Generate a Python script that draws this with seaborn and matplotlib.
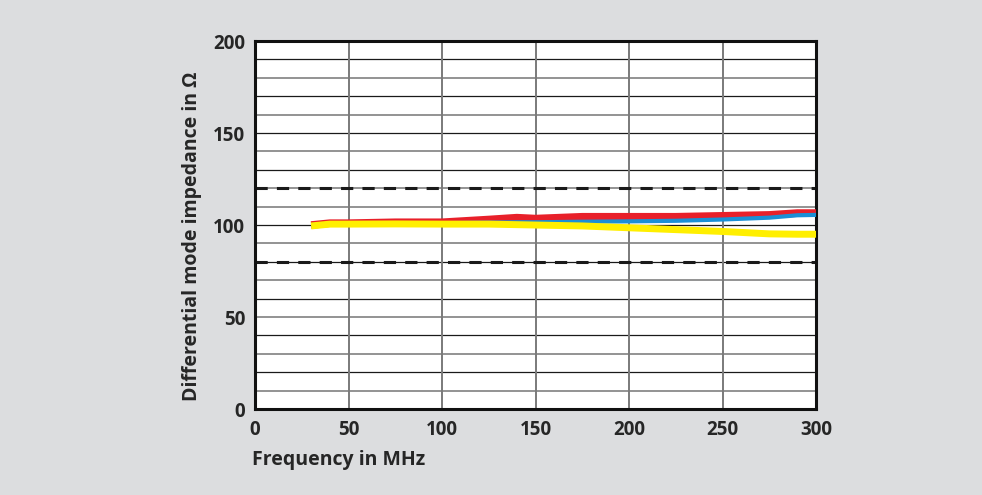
import numpy as np
import pandas as pd
import matplotlib
matplotlib.use("Agg")
import matplotlib.pyplot as plt
import seaborn as sns

# frequency points in MHz
freq = [30, 40, 50, 75, 100, 125, 140, 150, 175, 200, 225, 250, 275, 290, 300]
# impedance curves in Ohm
red = [100, 101, 101, 101.5, 101.5, 103, 104, 103.5, 104.5, 104.5, 104.5, 105, 105.5, 106.5, 106.5]
blue = [100, 100.5, 100.5, 100.8, 101, 101.3, 101.5, 101.5, 101.8, 102, 102.3, 103, 104, 105.3, 105.5]
yellow = [99.5, 100.5, 100.5, 100.6, 100.5, 100.5, 100.2, 100, 99.5, 98.5, 97.5, 96.5, 95.2, 95, 95]
limits = [80, 120]
dark_grid = [20, 40, 60, 80, 100, 130, 150, 170, 190]

df = pd.DataFrame({
    "f": freq * 3,
    "z": red + blue + yellow,
    "curve": ["red"] * len(freq) + ["blue"] * len(freq) + ["yellow"] * len(freq),
})

sns.set_style("white")
plt.rcParams["font.family"] = ["Open Sans", "DejaVu Sans"]
txt = "#262626"
bg = "#dcdddf"

fig = plt.figure(figsize=(9.82, 4.95), dpi=100, facecolor=bg)
ax = fig.add_axes([0.2597, 0.1737, 0.5713, 0.7434])
ax.set_facecolor("white")

# grid
for y in range(10, 200, 10):
    if y in dark_grid:
        ax.axhline(y, color="#1a1a1a", lw=0.9, zorder=1)
    else:
        ax.axhline(y, color="#8a8a8a", lw=1.3, zorder=1)
for x in range(50, 300, 50):
    ax.axvline(x, color="#7a7a7a", lw=1.4, zorder=1)
for y in limits:
    ax.axhline(y, color="#1a1a1a", lw=2.2, ls=(0, (4, 3)), zorder=2)

palette = {"red": "#e8202a", "blue": "#1a8fd6", "yellow": "#ffef00"}
widths = {"red": 5.5, "blue": 3.0, "yellow": 5.0}
for name in ["red", "blue", "yellow"]:
    sns.lineplot(data=df[df.curve == name], x="f", y="z", color=palette[name],
                 lw=widths[name], ax=ax, zorder=3, solid_capstyle="butt")

ax.set_xlim(0, 300)
ax.set_ylim(0, 200)
ax.set_xticks(range(0, 301, 50))
ax.set_yticks(range(0, 201, 50))
ax.tick_params(axis="y", length=0, labelsize=13.5, labelcolor=txt, pad=7)
ax.tick_params(axis="x", length=0, labelsize=13.5, labelcolor=txt, pad=8)
for lab in ax.get_xticklabels() + ax.get_yticklabels():
    lab.set_fontweight("bold")
for s in ax.spines.values():
    s.set_color("#111111")
    s.set_linewidth(2.2)

ax.set_xlabel("Frequency in MHz", fontsize=14, fontweight="bold", color=txt,
              ha="left", va="center")
ax.set_ylabel("Differential mode impedance in Ω", fontsize=14, fontweight="bold",
              color=txt, va="center")
ax.xaxis.set_label_coords(-0.006, -0.138)
ax.yaxis.set_label_coords(-0.112, 0.47)

fig.savefig("out.png", dpi=100, facecolor=bg)
